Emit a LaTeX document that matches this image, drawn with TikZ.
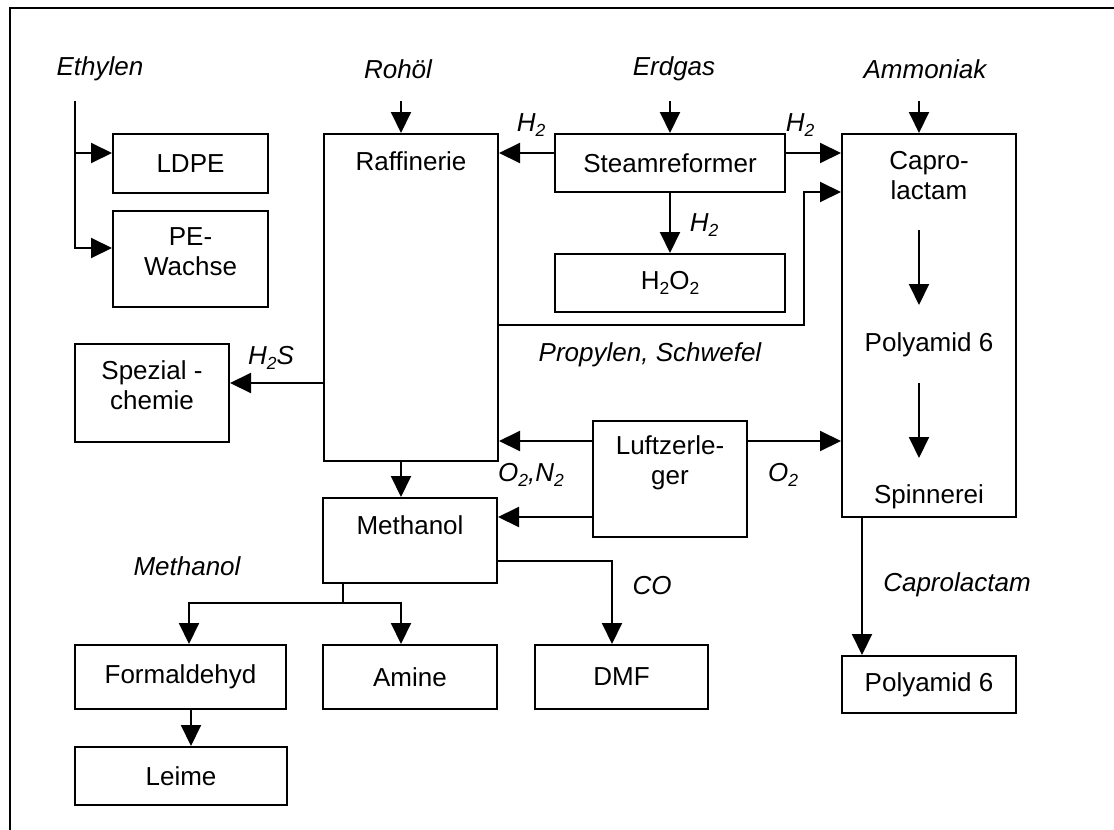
\documentclass[tikz,border=0pt]{standalone}
\usepackage{fontspec}
\setmainfont{Liberation Sans}
\usetikzlibrary{arrows.meta}
\newcommand\lsub[1]{\raisebox{-0.35ex}{\fontsize{17.5}{17.5}\selectfont #1}}
\tikzset{
  bx/.style={draw,line width=2pt,inner sep=0pt,align=center,font=\fontsize{26}{30}\selectfont},
  txt/.style={inner sep=0pt,align=center,font=\fontsize{26}{30}\selectfont},
  lbl/.style={inner sep=0pt,font=\fontsize{26}{30}\selectfont\itshape},
  arr/.style={line width=2pt,-{Triangle[length=21pt,width=20pt]}},
  ln/.style={line width=2pt}
}
\begin{document}
\begin{tikzpicture}[x=1pt,y=-1pt,line join=miter]
\useasboundingbox (0,0) rectangle (1114,830);
\draw[line width=2.2pt] (1114,8) -- (10,8) -- (10,830);

% boxes
\node[bx,minimum width=155pt,minimum height=59pt] (ldpe) at (190.5,163.5) {LDPE};
\node[bx,minimum width=155pt,minimum height=96pt] (pew) at (190.5,259) {};
\node[txt] (pewt) at (190.5,252) {PE-\\Wachse};
\node[bx,minimum width=174pt,minimum height=327pt] (raff) at (411,297.5) {};
\node[txt] (rafft) at (411,161) {Raffinerie};
\node[bx,minimum width=230pt,minimum height=58pt] (steam) at (670,163) {Steamreformer};
\node[bx,minimum width=230pt,minimum height=58pt] (hoo) at (670,283) {H\lsub{2}O\lsub{2}};
\node[bx,minimum width=174pt,minimum height=383pt] (capro) at (929,325.5) {};
\node[txt] (caprot) at (929,176) {Capro-\\lactam};
\node[txt] (pa6t) at (929,345) {Polyamid 6};
\node[txt] (spint) at (929,497) {Spinnerei};
\node[bx,minimum width=154pt,minimum height=98pt] (spez) at (152,393) {};
\node[txt] (spezt) at (152,385) {Spezial -\\chemie};
\node[bx,minimum width=154pt,minimum height=116pt] (luft) at (670,479) {};
\node[txt] (luftt) at (670,463) {Luftzerle-\\ger};
\node[bx,minimum width=174pt,minimum height=85pt] (meth) at (410,540.5) {};
\node[txt] (metht) at (410,525) {Methanol};
\node[bx,minimum width=211pt,minimum height=64pt] (form) at (180.5,677) {Formaldehyd};
\node[bx,minimum width=174pt,minimum height=64pt] (amine) at (410,677) {Amine};
\node[bx,minimum width=173pt,minimum height=64pt] (dmf) at (621.5,677) {DMF};
\node[bx,minimum width=212pt,minimum height=58pt] (leime) at (181,776) {Leime};
\node[bx,minimum width=174pt,minimum height=57pt] (pa6) at (929,684.5) {Polyamid 6};

% labels
\node[lbl] (lEth) at (100,69) {Ethylen};
\node[lbl] (lRoh) at (398,69) {Rohöl};
\node[lbl] (lErd) at (674,69) {Erdgas};
\node[lbl] (lAmm) at (925,69) {Ammoniak};
\node[lbl] (lH2a) at (531,125) {H\lsub{2}};
\node[lbl] (lH2b) at (800,125) {H\lsub{2}};
\node[lbl] (lH2c) at (704,225) {H\lsub{2}};
\node[lbl] (lH2S) at (271,358) {H\lsub{2}S};
\node[lbl] (lProp) at (650,355) {Propylen, Schwefel};
\node[lbl] (lON) at (531,475) {O\lsub{2},N\lsub{2}};
\node[lbl] (lO2) at (783,475) {O\lsub{2}};
\node[lbl] (lMeth) at (187,566) {Methanol};
\node[lbl] (lCO) at (652,586) {CO};
\node[lbl] (lCap) at (957,585) {Caprolactam};

% helper coordinates
\coordinate (eth) at (75,101);
\coordinate (roh) at (401,101);
\coordinate (erd) at (670,101);
\coordinate (amm) at (919,101);
\coordinate (h153) at (0,153);
\coordinate (h248) at (0,248);
\coordinate (h325) at (0,325);
\coordinate (h192) at (0,192);
\coordinate (h383) at (0,383);
\coordinate (h441) at (0,441);
\coordinate (h517) at (0,517);
\coordinate (rb) at (804,325);
\coordinate (cob) at (612,561);
\coordinate (mb) at (343,603);
\coordinate (fb) at (189,603);
\coordinate (ab) at (401,603);
\coordinate (fl) at (191,0);
\coordinate (cl) at (862,0);
\coordinate (ca1) at (919,230);
\coordinate (ca2) at (919,305);
\coordinate (ca3) at (919,383);
\coordinate (ca4) at (919,458);

% connectors
\draw[arr] (eth) |- (ldpe.west |- h153);
\draw[arr] (eth) |- (pew.west |- h248);
\draw[arr] (roh) -- (roh |- raff.north);
\draw[arr] (erd) -- (steam.north);
\draw[arr] (amm) -- (amm |- capro.north);
\draw[arr] (steam.west |- h153) -- (raff.east |- h153);
\draw[arr] (steam.east |- h153) -- (capro.west |- h153);
\draw[arr] (steam.south) -- (hoo.north);
\draw[arr] (raff.east |- h325) -- (rb) |- (capro.west |- h192);
\draw[arr] (raff.west |- h383) -- (spez.east |- h383);
\draw[arr] (luft.west |- h441) -- (raff.east |- h441);
\draw[arr] (luft.east |- h441) -- (capro.west |- h441);
\draw[arr] (luft.west |- h517) -- (meth.east |- h517);
\draw[arr] (roh |- raff.south) -- (roh |- meth.north);
\draw[arr] (meth.east |- cob) -| (dmf.north -| cob);
\draw[ln] (meth.south -| mb) -- (mb);
\draw[arr] (mb) -| (form.north -| fb);
\draw[arr] (mb) -| (amine.north -| ab);
\draw[arr] (form.south -| fl) -- (leime.north -| fl);
\draw[arr] (capro.south -| cl) -- (pa6.north -| cl);
\draw[arr] (ca1) -- (ca2);
\draw[arr] (ca3) -- (ca4);
\end{tikzpicture}
\end{document}
